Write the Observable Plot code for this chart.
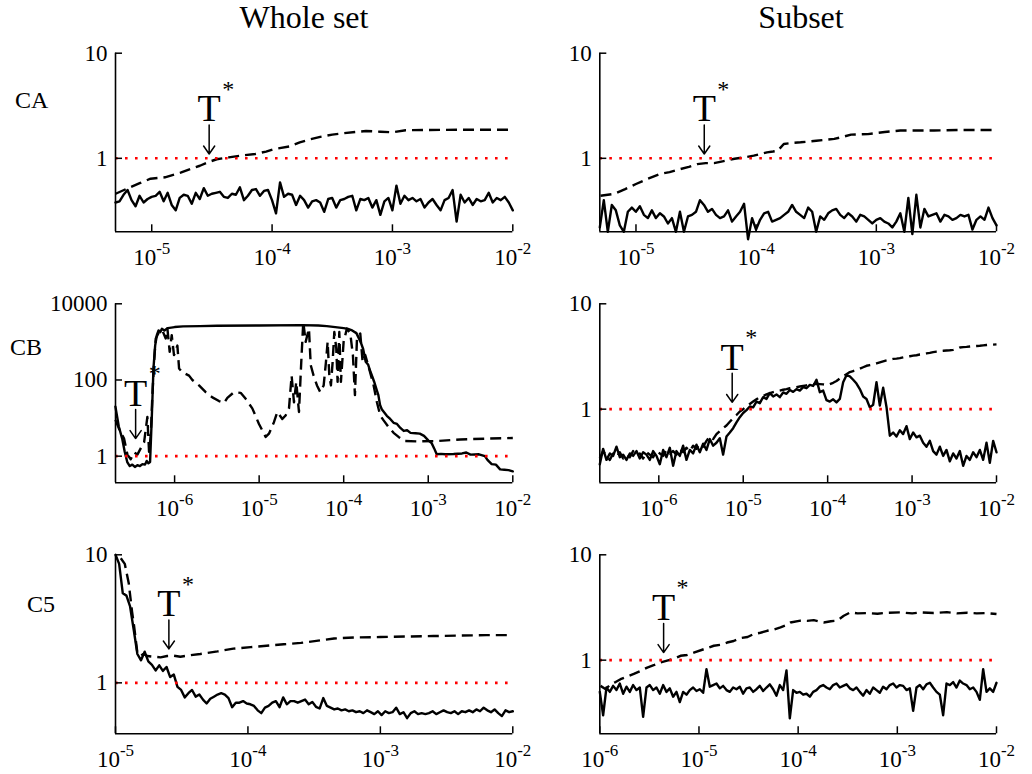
<!DOCTYPE html>
<html>
<head>
<meta charset="utf-8">
<script src="https://cdn.jsdelivr.net/npm/d3@7"></script>
<script src="https://cdn.jsdelivr.net/npm/@observablehq/plot@0.6"></script>
<style>
  html, body { margin: 0; padding: 0; background: #fff; }
  #figure { position: relative; width: 1032px; height: 774px; overflow: hidden; background: #fff;
            font-family: "Liberation Serif", "Times New Roman", serif; color: #000; }
  .panel { position: absolute; }
  .col-title { position: absolute; font-size: 32px; line-height: 1; white-space: nowrap; transform: translateX(-50%); }
  .row-label { position: absolute; font-size: 24px; line-height: 1; white-space: nowrap; }
</style>
</head>
<body>
<div id="figure">
  <div class="col-title" style="left:304px; top:1px;">Whole set</div>
  <div class="col-title" style="left:801px; top:1px;">Subset</div>
  <div class="row-label" style="left:15px; top:88px;">CA</div>
  <div class="row-label" style="left:10px; top:335px;">CB</div>
  <div class="row-label" style="left:27px; top:592px;">C5</div>
</div>
<script>
// ---- axis ranges and ticks ----
const caXDomain = [5e-6, 1e-2];
const cbXDomain = [2e-7, 1e-2];
const c5WholeXDomain = [1e-5, 1e-2];
const c5SubXDomain = [1e-6, 1e-2];
const caXTicks = [1e-5, 1e-4, 1e-3, 1e-2];
const cbXTicks = [1e-6, 1e-5, 1e-4, 1e-3, 1e-2];
const c5WholeXTicks = [1e-5, 1e-4, 1e-3, 1e-2];
const c5SubXTicks = [1e-6, 1e-5, 1e-4, 1e-3, 1e-2];
const unitYTicks = [1, 10];
const cbWholeYTicks = [1, 100, 10000];

// ---- CA, whole set ----
const caWholeSolid = [0.38,0.39,0.45,0.50,0.40,0.35,0.44,0.38,0.41,0.43,0.44,0.48,0.39,0.47,0.36,0.32,0.42,0.45,0.44,0.37,
  0.47,0.41,0.52,0.44,0.46,0.47,0.48,0.43,0.42,0.46,0.45,0.53,0.40,0.44,0.50,0.51,0.44,0.49,0.50,0.40,
  0.30,0.59,0.43,0.46,0.45,0.36,0.44,0.40,0.34,0.39,0.40,0.38,0.31,0.41,0.42,0.34,0.40,0.41,0.43,0.44,
  0.32,0.41,0.40,0.42,0.34,0.40,0.29,0.39,0.42,0.32,0.55,0.37,0.44,0.40,0.42,0.39,0.41,0.34,0.38,0.41,
  0.36,0.32,0.40,0.42,0.50,0.25,0.45,0.38,0.42,0.36,0.41,0.39,0.40,0.47,0.38,0.42,0.40,0.43,0.38,0.32];
const caWholeDashExp = [-5.30,-5.18,-5.10,-5.01,-4.89,-4.76,-4.68,-4.60,-4.53,-4.46,-4.36,-4.26,-4.14,-4.05,-3.99,
  -3.85,-3.77,-3.68,-3.60,-3.50,-3.43,-3.31,-3.22,-3.10,-3.00,-2.89,-2.69,-2.44,-2.19,-2.00];
const caWholeDash = [0.46,0.53,0.58,0.64,0.66,0.73,0.79,0.85,0.92,0.98,1.02,1.06,1.10,1.16,1.22,
  1.30,1.42,1.52,1.60,1.68,1.72,1.78,1.82,1.79,1.77,1.85,1.86,1.87,1.87,1.87];

// ---- CA, subset ----
const caSubSolid = [0.22,0.40,0.20,0.36,0.32,0.23,0.20,0.31,0.34,0.31,0.35,0.29,0.27,0.32,0.27,0.30,0.28,0.24,0.27,0.20,
  0.31,0.20,0.28,0.29,0.31,0.40,0.36,0.31,0.33,0.29,0.27,0.28,0.32,0.25,0.28,0.31,0.37,0.17,0.27,0.21,
  0.26,0.30,0.31,0.25,0.26,0.27,0.29,0.31,0.36,0.31,0.29,0.27,0.34,0.31,0.20,0.28,0.26,0.30,0.32,0.33,
  0.29,0.27,0.30,0.28,0.25,0.29,0.28,0.26,0.24,0.26,0.27,0.25,0.24,0.22,0.25,0.30,0.20,0.42,0.19,0.45,
  0.22,0.33,0.28,0.29,0.30,0.25,0.29,0.28,0.26,0.27,0.29,0.28,0.29,0.21,0.26,0.28,0.26,0.34,0.27,0.23];
const caSubDashExp = [-5.295,-5.18,-5.09,-5.00,-4.90,-4.80,-4.72,-4.63,-4.56,-4.49,-4.42,-4.35,-4.27,-4.18,-4.10,
  -4.02,-3.96,-3.91,-3.86,-3.82,-3.77,-3.70,-3.63,-3.50,-3.35,-3.28,-3.21,-3.07,-2.93,-2.80,-2.52,-2.30,-2.00];
const caSubDash = [0.44,0.46,0.51,0.57,0.64,0.71,0.74,0.79,0.83,0.88,0.90,0.90,0.94,0.99,1.02,
  1.06,1.10,1.14,1.16,1.18,1.37,1.40,1.42,1.47,1.53,1.60,1.68,1.70,1.78,1.84,1.84,1.86,1.86];

// ---- CB, whole set ----
const cbWholeSolidExp = [-6.70,-6.66,-6.62,-6.59,-6.56,-6.53,-6.50,-6.47,-6.44,-6.41,-6.38,-6.35,-6.33,-6.31,-6.29,
  -6.27,-6.25,-6.23,-6.21,-6.19,-6.17,-6.15,-6.12,-6.08,-6.00,-5.90,-5.70,-5.50,-5.00,-4.50,
  -4.30,-4.20,-4.10,-4.00,-3.95,-3.90,-3.85,-3.80,-3.77,-3.74,-3.71,-3.69,-3.66,-3.64,-3.61,
  -3.59,-3.57,-3.55,-3.52,-3.49,-3.45,-3.41,-3.37,-3.33,-3.29,-3.25,-3.21,-3.15,-3.10,-3.05,
  -3.00,-2.96,-2.93,-2.90,-2.85,-2.80,-2.70,-2.60,-2.55,-2.50,-2.40,-2.33,-2.30,-2.25,-2.20,
  -2.15,-2.10,-2.05,-2.00];
const cbWholeSolid = [20,6,2.9,1.3,0.7,0.55,0.6,0.52,0.58,0.55,0.62,0.6,0.75,0.65,0.7,
  10,200,800,1500,2000,1800,2200,2000,2300,2450,2550,2600,2650,2700,2750,
  2700,2600,2450,2300,2200,2000,1700,1000,650,300,250,180,120,90,55,
  40,22,17,14,11.5,9.5,7.5,7,5.5,4.6,4.8,4.1,4,3.9,3.4,
  2.6,2.2,1.6,1.12,1.15,1.12,1.14,1.18,1.25,1.1,1.12,1.0,0.8,0.62,0.6,
  0.45,0.44,0.43,0.40];
const cbWholeDashExp = [-6.70,-6.657,-6.598,-6.558,-6.519,-6.479,-6.44,-6.401,-6.361,-6.322,-6.302,-6.282,-6.263,-6.243,-6.223,
  -6.184,-6.145,-6.105,-6.085,-6.058,-6.034,-6.007,-5.967,-5.947,-5.908,-5.829,-5.79,-5.711,-5.632,-5.553,
  -5.475,-5.415,-5.376,-5.297,-5.219,-5.159,-5.081,-5.002,-4.923,-4.884,-4.825,-4.785,-4.726,-4.687,-4.647,
  -4.616,-4.588,-4.561,-4.529,-4.502,-4.478,-4.45,-4.411,-4.39,-4.356,-4.316,-4.277,-4.237,-4.21,-4.19,
  -4.17,-4.151,-4.131,-4.111,-4.088,-4.072,-4.052,-4.033,-4.001,-3.962,-3.922,-3.891,-3.867,-3.843,-3.804,
  -3.776,-3.745,-3.705,-3.646,-3.607,-3.568,-3.528,-3.469,-3.41,-3.351,-3.272,-3.134,-2.898,-2.622,-2.267,-2.00];
const cbWholeDash = [9,5.2,2.9,1.1,0.83,1.26,1.1,1.6,2.3,10.7,1.3,3.5,40,295,1230,
  1820,2000,1230,2240,550,1500,450,800,200,160,130,100,72,48,35,
  28,25,34,48,46,32,18,7,3.2,3.9,7.8,14.5,9.5,11.7,18,
  130,26,89,14.5,295,3400,1000,2240,245,130,72,48,72,295,1000,
  130,72,295,1820,680,89,1820,89,1000,2240,1660,450,40,1230,1660,
  295,450,220,72,26,11.7,8.7,5.8,4.1,3.2,2.5,2.45,2.5,2.75,2.9,3.0];

// ---- CB, subset ----
const cbSubSolid = [0.30,0.42,0.33,0.38,0.36,0.44,0.35,0.37,0.33,0.38,
  0.36,0.40,0.34,0.39,0.37,0.33,0.40,0.36,0.30,0.41,
  0.35,0.43,0.29,0.40,0.36,0.45,0.33,0.41,0.38,0.46,
  0.39,0.47,0.41,0.52,0.45,0.48,0.53,0.37,0.55,0.60,
  0.66,0.75,0.84,0.92,0.98,1.06,1.04,1.18,1.14,1.30,
  1.25,1.42,1.32,1.38,1.30,1.44,1.40,1.52,1.46,1.55,
  1.50,1.62,1.58,1.70,1.66,1.90,1.45,1.50,1.22,1.18,
  1.24,1.16,1.25,1.80,2.10,2.05,1.90,1.75,1.55,1.32,
  1.25,1.04,1.10,1.80,1.08,1.60,1.05,0.56,0.60,0.55,
  0.63,0.58,0.69,0.52,0.60,0.54,0.56,0.48,0.44,0.50,
  0.40,0.37,0.44,0.36,0.41,0.32,0.38,0.34,0.40,0.29,
  0.36,0.33,0.39,0.35,0.41,0.33,0.48,0.31,0.50,0.39];
const cbSubDash = [0.34,0.40,0.36,0.33,0.38,0.35,0.39,0.34,0.37,0.35,
  0.40,0.36,0.38,0.34,0.39,0.37,0.35,0.40,0.38,0.36,
  0.41,0.38,0.40,0.37,0.42,0.39,0.43,0.40,0.45,0.42,
  0.47,0.44,0.50,0.55,0.52,0.58,0.62,0.66,0.70,0.76,
  0.82,0.88,0.95,1.00,1.06,1.12,1.18,1.24,1.30,1.33,
  1.38,1.42,1.45,1.48,1.50,1.53,1.55,1.58,1.60,1.62,
  1.64,1.66,1.68,1.70,1.72,1.74,1.73,1.72,1.70,1.73,
  1.78,1.85,1.95,2.05,2.15,2.25,2.30,2.35,2.42,2.50,
  2.58,2.62,2.66,2.72,2.78,2.84,2.90,2.95,3.00,3.02,
  3.05,3.10,3.15,3.18,3.22,3.25,3.30,3.32,3.38,3.42,
  3.48,3.52,3.56,3.58,3.60,3.62,3.65,3.72,3.85,3.88,
  3.90,3.93,3.96,3.98,4.00,4.03,4.06,4.08,4.10,4.12];

// ---- C5, whole set ----
const c5WholeSolid = [10,8.5,5.0,4.8,3.95,2.6,1.68,1.5,1.75,1.47,
  1.38,1.25,1.37,1.24,1.33,1.11,1.16,0.93,0.88,0.77,
  0.83,0.88,0.78,0.81,0.74,0.69,0.75,0.78,0.81,0.83,
  0.81,0.76,0.645,0.70,0.70,0.72,0.69,0.68,0.66,0.61,
  0.58,0.64,0.66,0.70,0.72,0.645,0.77,0.68,0.72,0.72,
  0.70,0.72,0.74,0.68,0.71,0.65,0.63,0.76,0.66,0.64,
  0.62,0.63,0.61,0.62,0.60,0.61,0.59,0.60,0.58,0.61,
  0.59,0.57,0.60,0.56,0.60,0.58,0.59,0.64,0.57,0.59,
  0.53,0.58,0.60,0.57,0.58,0.57,0.58,0.60,0.57,0.59,
  0.61,0.59,0.58,0.60,0.57,0.60,0.59,0.61,0.59,0.62,
  0.60,0.64,0.61,0.59,0.62,0.58,0.55,0.61,0.59,0.60];
const c5WholeDashExp = [-4.96,-4.93,-4.90,-4.875,-4.86,-4.85,-4.836,-4.81,-4.79,-4.76,-4.71,-4.66,-4.61,-4.56,-4.51,
  -4.46,-4.36,-4.23,-4.11,-3.98,-3.86,-3.73,-3.60,-3.45,-3.35,-3.20,-3.00,-2.80,-2.60,-2.40,-2.20,-2.00];
const c5WholeDash = [9.4,8.5,6.0,3.6,2.8,2.3,1.75,1.62,1.68,1.62,1.60,1.58,1.62,1.63,1.60,
  1.63,1.68,1.76,1.85,1.90,1.95,2.00,2.05,2.15,2.22,2.26,2.28,2.30,2.32,2.34,2.36,2.36];

// ---- C5, subset ----
const c5SubSolid = [0.50,0.30,0.55,0.50,0.57,0.52,0.60,0.48,0.56,0.50,
  0.58,0.52,0.55,0.29,0.55,0.58,0.52,0.55,0.48,0.58,
  0.50,0.54,0.45,0.50,0.40,0.50,0.47,0.52,0.55,0.51,
  0.53,0.49,0.82,0.56,0.58,0.60,0.54,0.57,0.52,0.50,
  0.55,0.53,0.56,0.48,0.54,0.55,0.50,0.53,0.57,0.51,
  0.55,0.59,0.53,0.46,0.58,0.52,0.80,0.28,0.52,0.49,
  0.50,0.47,0.48,0.45,0.50,0.52,0.56,0.58,0.55,0.53,
  0.58,0.60,0.55,0.57,0.59,0.54,0.52,0.55,0.50,0.46,
  0.52,0.48,0.55,0.52,0.49,0.56,0.53,0.58,0.60,0.55,
  0.58,0.57,0.52,0.54,0.33,0.55,0.58,0.53,0.59,0.61,
  0.55,0.50,0.47,0.30,0.60,0.58,0.62,0.55,0.64,0.60,
  0.58,0.53,0.55,0.50,0.42,0.82,0.50,0.54,0.50,0.61];
const c5SubDashExp = [-5.993,-5.94,-5.892,-5.84,-5.791,-5.72,-5.657,-5.59,-5.522,-5.45,-5.388,-5.321,-5.25,-5.186,-5.12,
  -5.052,-4.952,-4.851,-4.78,-4.716,-4.65,-4.582,-4.51,-4.448,-4.38,-4.313,-4.24,-4.178,-4.12,-4.078,
  -3.977,-3.91,-3.843,-3.78,-3.742,-3.67,-3.607,-3.54,-3.473,-3.40,-3.304,-3.20,-3.10,-2.969,-2.85,
  -2.75,-2.633,-2.50,-2.40,-2.296,-2.20,-2.10,-2.00];
const c5SubDash = [0.57,0.53,0.59,0.62,0.66,0.70,0.74,0.79,0.85,0.90,0.95,0.99,1.03,1.10,1.12,
  1.18,1.27,1.37,1.40,1.47,1.52,1.62,1.66,1.77,1.82,1.90,1.96,2.05,2.15,2.28,
  2.37,2.36,2.40,2.32,2.28,2.34,2.37,2.64,2.84,2.78,2.80,2.76,2.82,2.84,2.78,
  2.84,2.80,2.86,2.78,2.82,2.78,2.80,2.74];

// ---- T* thresholds: x position and the value the arrow points to ----
const tStarX = [3.0e-5, 3.7e-5, 3.46e-7, 7.4e-6, 2.53e-5, 4.4e-6];
const tStarY = [1.1, 1.1, 2.9, 1.16, 1.84, 1.18];

// evenly spaced (in log10) sampling of a series over [lo, hi]
const gridSeries = (domain, values) => {
  const lo = Math.log10(domain[0]), hi = Math.log10(domain[1]);
  return values.map((v, i) => ({x: 10 ** (lo + (i * (hi - lo)) / (values.length - 1)), y: v}));
};
const pointSeries = (exps, values) => exps.map((e, i) => ({x: 10 ** e, y: values[i]}));

const leftCol = {left: 0, width: 540, mL: 115, mR: 27.7};
const rightCol = {left: 540, width: 492, mL: 59.3, mR: 36};
const row1 = {top: 35, height: 240, mT: 17.7, mB: 43.7};
const row2 = {top: 280, height: 245, mT: 23.3, mB: 42.7};
const row3 = {top: 530, height: 244, mT: 24.3, mB: 40.7};

const panels = [
  {...leftCol, ...row1, xDomain: caXDomain, yDomain: [0.2, 10], xTicks: caXTicks, yTicks: unitYTicks,
   solid: gridSeries(caXDomain, caWholeSolid), dashed: pointSeries(caWholeDashExp, caWholeDash), t: 0},
  {...rightCol, ...row1, xDomain: caXDomain, yDomain: [0.2, 10], xTicks: caXTicks, yTicks: unitYTicks,
   solid: gridSeries(caXDomain, caSubSolid), dashed: pointSeries(caSubDashExp, caSubDash), t: 1},
  {...leftCol, ...row2, xDomain: cbXDomain, yDomain: [0.2, 10000], xTicks: cbXTicks, yTicks: cbWholeYTicks,
   solid: pointSeries(cbWholeSolidExp, cbWholeSolid), dashed: pointSeries(cbWholeDashExp, cbWholeDash), t: 2},
  {...rightCol, ...row2, xDomain: cbXDomain, yDomain: [0.2, 10], xTicks: cbXTicks, yTicks: unitYTicks,
   solid: gridSeries(cbXDomain, cbSubSolid), dashed: gridSeries(cbXDomain, cbSubDash), t: 3},
  {...leftCol, ...row3, xDomain: c5WholeXDomain, yDomain: [0.4, 10], xTicks: c5WholeXTicks, yTicks: unitYTicks,
   solid: gridSeries(c5WholeXDomain, c5WholeSolid), dashed: pointSeries(c5WholeDashExp, c5WholeDash), t: 4},
  {...rightCol, ...row3, xDomain: c5SubXDomain, yDomain: [0.2, 10], xTicks: c5SubXTicks, yTicks: unitYTicks,
   solid: gridSeries(c5SubXDomain, c5SubSolid), dashed: pointSeries(c5SubDashExp, c5SubDash), t: 5}
];

const SVGNS = "http://www.w3.org/2000/svg";
const figure = document.getElementById("figure");

for (const p of panels) {
  const innerW = p.width - p.mL - p.mR;
  const innerH = p.height - p.mT - p.mB;
  const pxPerDecade = innerH / Math.log10(p.yDomain[1] / p.yDomain[0]);
  const tip = tStarY[p.t];
  const ann = [{x: tStarX[p.t], y1: tip * 10 ** (29 / pxPerDecade), y2: tip}];

  const svg = Plot.plot({
    width: p.width,
    height: p.height,
    marginLeft: p.mL, marginRight: p.mR, marginTop: p.mT, marginBottom: p.mB,
    style: {fontFamily: '"Liberation Serif", "Times New Roman", serif', fontSize: "22px",
            background: "transparent", color: "black", overflow: "visible"},
    x: {type: "log", domain: p.xDomain, label: null},
    y: {type: "log", domain: p.yDomain, label: null},
    marks: [
      Plot.axisX({ticks: p.xTicks, tickSize: 0, tickPadding: 17, label: null, fontSize: 23,
                  tickFormat: d => "10^" + Math.round(Math.log10(d))}),
      Plot.axisY({ticks: p.yTicks, tickSize: 0, tickPadding: 8, label: null, fontSize: 23,
                  tickFormat: d => String(d)}),
      Plot.line(p.solid, {x: "x", y: "y", stroke: "black", strokeWidth: 2.4}),
      Plot.line(p.dashed, {x: "x", y: "y", stroke: "black", strokeWidth: 2.4,
                           strokeDasharray: "11,6", strokeLinecap: "butt"}),
      Plot.ruleY([1], {stroke: "#ff0000", strokeWidth: 2.6, strokeDasharray: "2.6,7.4"}),
      Plot.ruleX([p.xDomain[0]], {stroke: "black", strokeWidth: 1.6}),
      Plot.ruleY([p.yDomain[0]], {stroke: "black", strokeWidth: 1.6}),
      Plot.tickX(p.xTicks, {x: d => d, insetTop: innerH - 7, stroke: "black", strokeWidth: 1.5}),
      Plot.tickY(p.yTicks, {y: d => d, insetRight: innerW - 7, stroke: "black", strokeWidth: 1.5}),
      Plot.arrow(ann, {x1: "x", x2: "x", y1: "y1", y2: "y2", stroke: "black", strokeWidth: 1.5,
                       headLength: 10, headAngle: 70}),
      Plot.text(ann, {x: "x", y: "y1", text: () => "T", fontSize: 38, dy: -16}),
      Plot.text(ann, {x: "x", y: "y1", text: () => "*", fontSize: 24, dx: 19, dy: -36})
    ]
  });

  // powers of ten: "10" followed by a raised, smaller exponent
  svg.querySelectorAll('[aria-label="x-axis tick label"] text').forEach(t => {
    const [base, exp] = t.textContent.split("^");
    t.textContent = "";
    const b = document.createElementNS(SVGNS, "tspan");
    b.textContent = base;
    const e = document.createElementNS(SVGNS, "tspan");
    e.setAttribute("dy", "-11");
    e.setAttribute("font-size", "17");
    e.textContent = exp;
    t.appendChild(b);
    t.appendChild(e);
  });

  svg.classList.add("panel");
  svg.style.position = "absolute";
  svg.style.left = p.left + "px";
  svg.style.top = p.top + "px";
  figure.appendChild(svg);
}
</script>
</body>
</html>
